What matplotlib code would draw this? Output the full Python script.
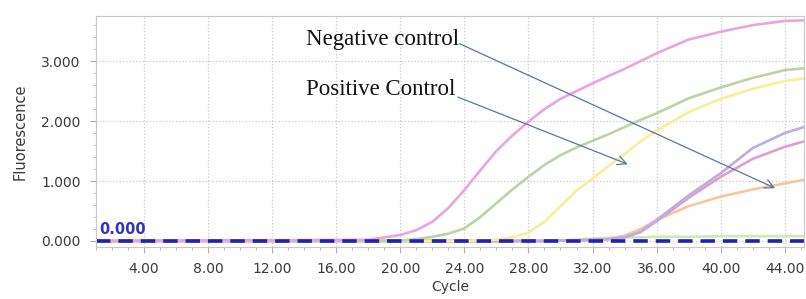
import numpy as np
import matplotlib.pyplot as plt
from matplotlib.ticker import MultipleLocator, FormatStrFormatter

cycles = [1, 18, 20, 21, 22, 23, 24, 25, 26, 27, 28, 29, 30, 31, 32, 33, 34, 35, 36, 38, 40, 42, 44, 45.2]

pink = [0, 0.02, 0.1, 0.18, 0.32, 0.55, 0.85, 1.18, 1.5, 1.76, 1.99, 2.2, 2.37, 2.5, 2.63, 2.75, 2.87, 3.0, 3.13, 3.36, 3.49, 3.6, 3.67, 3.68]
green = [0, 0, 0.01, 0.03, 0.07, 0.12, 0.21, 0.4, 0.63, 0.86, 1.07, 1.27, 1.43, 1.56, 1.67, 1.78, 1.9, 2.02, 2.13, 2.38, 2.56, 2.72, 2.85, 2.88]
yellow = [0, 0, 0, 0, 0, 0, 0, 0.01, 0.02, 0.06, 0.14, 0.32, 0.58, 0.84, 1.04, 1.25, 1.45, 1.66, 1.84, 2.15, 2.37, 2.54, 2.67, 2.71]
purple = [0, 0, 0, 0, 0, 0, 0, 0, 0, 0, 0, 0, 0.01, 0.01, 0.02, 0.03, 0.06, 0.15, 0.35, 0.76, 1.13, 1.55, 1.8, 1.9]
mauve = [0, 0, 0, 0, 0, 0, 0, 0, 0, 0, 0, 0, 0.01, 0.01, 0.02, 0.03, 0.06, 0.15, 0.33, 0.72, 1.07, 1.37, 1.57, 1.66]
orange = [0, 0, 0, 0, 0, 0, 0, 0, 0, 0, 0, 0, 0.01, 0.01, 0.02, 0.04, 0.09, 0.2, 0.35, 0.58, 0.74, 0.86, 0.96, 1.02]
flat = [0, 0, 0, 0, 0, 0, 0, 0, 0, 0, 0, 0, 0.01, 0.02, 0.04, 0.05, 0.06, 0.06, 0.07, 0.07, 0.08, 0.08, 0.08, 0.08]

series = [
    (flat, '#d2e8b4'),
    (orange, '#f6c79a'),
    (mauve, '#dca0cf'),
    (purple, '#bcaee3'),
    (yellow, '#f7ee98'),
    (green, '#bcd3a6'),
    (pink, '#e9a6dc'),
]

threshold = 0.0

fig = plt.figure(figsize=(8.06, 2.99), dpi=100)
ax = fig.add_axes([0.119, 0.174, 0.8785, 0.772])

for vals, col in series:
    ax.plot(cycles, vals, color=col, lw=1.9, solid_capstyle='round', solid_joinstyle='round')

ax.axhline(threshold, color='#2222aa', lw=2.6, dashes=(4, 2.2))
ax.text(1.2, 0.06, '0.000', color='#3333bb', fontsize=10.5, fontweight='bold',
        va='bottom', ha='left')

ax.set_xlim(1, 45.2)
ax.set_ylim(-0.1, 3.75)

ax.xaxis.set_major_locator(MultipleLocator(4))
ax.xaxis.set_minor_locator(MultipleLocator(1))
ax.xaxis.set_major_formatter(FormatStrFormatter('%.2f'))
ax.yaxis.set_major_locator(MultipleLocator(1))
ax.yaxis.set_minor_locator(MultipleLocator(0.2))
ax.yaxis.set_major_formatter(FormatStrFormatter('%.3f'))

ax.grid(True, which='major', color='#c8c8c8', ls=':', lw=0.9)
for s in ax.spines.values():
    s.set_color('#c8c8c8')
ax.tick_params(which='both', colors='#b0b0b0', labelcolor='#3a3a3a', labelsize=10)
ax.tick_params(which='major', length=4, pad=7)
ax.tick_params(which='minor', length=2.5)

ax.set_xlabel('Cycle', color='#3a3a3a', fontsize=10, labelpad=3)
ax.set_ylabel('Fluorescence', color='#3a3a3a', fontsize=10.5, labelpad=10)

arrow = dict(arrowstyle='->', color='#5577a0', lw=0.9, shrinkA=0, shrinkB=0,
             mutation_scale=16)
ax.annotate('', xy=(43.4, 0.88), xytext=(23.7, 3.29), arrowprops=arrow)
ax.annotate('', xy=(34.2, 1.28), xytext=(23.6, 2.4), arrowprops=arrow)
ax.text(14.1, 3.36, 'Negative control', family='Liberation Serif', fontsize=16.5,
        va='center', ha='left', color='#111111')
ax.text(14.1, 2.53, 'Positive Control', family='Liberation Serif', fontsize=16.5,
        va='center', ha='left', color='#111111')

fig.savefig('out.png', dpi=100)
